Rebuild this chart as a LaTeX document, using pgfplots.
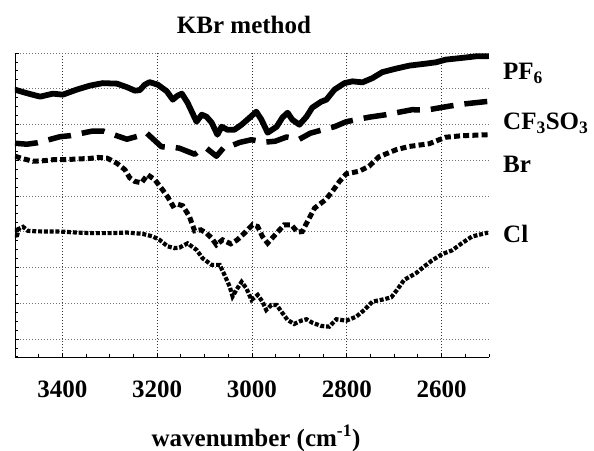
\documentclass[border=0pt]{standalone}
\usepackage{pgfplots}
\pgfplotsset{compat=1.18}
\usepackage{fontspec}
\setmainfont{Liberation Serif}
\begin{document}
\begin{tikzpicture}
\useasboundingbox (-15pt,-93pt) rectangle (579pt,357pt);
\begin{axis}[
  scale only axis, width=474pt, height=304pt,
  anchor=south west, at={(0pt,0pt)},
  x dir=reverse, xmin=2500, xmax=3500, ymin=0, ymax=303.6,
  axis x line*=bottom, axis y line*=left,
  axis line style={line width=0.9pt},
  xtick={3400,3200,3000,2800,2600},
  xticklabels={3400,3200,3000,2800,2600},
  minor xtick={2500,2550,...,3500},
  ytick={18,53.7,89.4,125.1,160.8,196.5,232.2,267.9,303.6},
  yticklabels={},
  minor ytick={0.15,9.075,...,303.6},
  tick align=inside, major tick length=4pt, minor tick length=3pt,
  tick style={black, line width=0.8pt},
  xmajorgrids, ymajorgrids,
  x grid style={black!80, line width=0.7pt, dash pattern=on 1.3pt off 1.7pt},
  y grid style={black!55, line width=0.7pt, dash pattern=on 1.3pt off 1.7pt},
  every axis title/.style={at={(axis description cs:0.5,1)}, anchor=base, yshift=20pt, xshift=-8pt, font=\fontsize{25}{30}\selectfont\bfseries},
  title={KBr method},
  every axis x label/.style={at={(axis description cs:0.5,0)}, anchor=base, yshift=-89pt, xshift=4pt, font=\fontsize{25}{30}\selectfont\bfseries},
  xlabel={wavenumber (cm\textsuperscript{-1})},
  xticklabel style={anchor=base, yshift=-40pt, font=\fontsize{25}{30}\selectfont\bfseries},
]
% PF6
\addplot[black, line width=5.8pt, line join=round, line cap=round] coordinates {
(3500,267) (3479,264) (3447,260) (3420,263) (3399,262) (3370,267) (3342,271)
(3315,273.5) (3285,273) (3264,269.5) (3247,266) (3237,266.5) (3226,272)
(3216,274.5) (3199,272) (3180,265.5) (3167,257) (3157,261) (3148,263)
(3136,254) (3117,235) (3106,242) (3096,240) (3085,234) (3073,222) (3064,230)
(3052,227) (3037,227) (3022,232) (3005,239) (2991,245) (2980,237) (2967,224)
(2948,230) (2936,239) (2925,244) (2915,237) (2900,232) (2885,240) (2873,249)
(2854,255) (2843,257) (2826,267) (2805,273.5) (2788,275.3) (2767,274.3)
(2746,278.5) (2725,284.5) (2696,288) (2668,291) (2633,293) (2612,294.3)
(2591,297) (2557,298.7) (2527,300.3) (2502,300.3)
};
% CF3SO3
\addplot[black, line width=5.5pt, dash pattern=on 23pt off 11pt, line join=round] coordinates {
(3500,213.5) (3475,212.5) (3452,214) (3405,220) (3384,221) (3338,225.5)
(3313,225.5) (3264,217.5) (3237,221) (3228,223.5) (3222,223.5) (3191,210)
(3167,209.5) (3153,208.5) (3121,202.5) (3111,206) (3096,208.5) (3075,200.5)
(3058,210) (3047,210.3) (3026,214.3) (3001,217) (2974,214.5) (2951,215.5)
(2927,219.7) (2900,217.5) (2877,223.5) (2858,226) (2826,230) (2801,235)
(2753,239.5) (2717,242) (2662,247) (2633,246.5) (2584,250.5) (2557,252.5)
(2502,255.3)
};
% Br
\addplot[black, line width=5pt, dash pattern=on 6pt off 3.2pt] coordinates {
(3500,200.5) (3483,198) (3462,195.5) (3441,196) (3420,197) (3399,197)
(3370,197.7) (3342,198.3) (3325,199.3) (3306,198.7) (3285,193.5) (3268,187)
(3258,179) (3247,175.3) (3233,174) (3226,178.5) (3220,182) (3205,177)
(3191,168.5) (3178,160) (3167,151) (3159,153) (3146,151) (3132,140.3)
(3121,126) (3108,127) (3096,123.7) (3085,118.7) (3075,112) (3062,117)
(3045,113) (3031,117) (3016,123.7) (2999,132) (2988,130.3) (2978,120.3)
(2967,113.7) (2948,123.7) (2932,132) (2917,132) (2904,124.7) (2894,125.3)
(2883,135.3) (2868,148.7) (2845,157) (2831,165) (2816,175) (2801,183)
(2774,185.5) (2753,190.5) (2732,200) (2696,207) (2668,210.3) (2626,213)
(2605,217) (2591,219.5) (2557,221) (2502,222)
};
% Cl
\addplot[black, line width=4.2pt, dash pattern=on 4pt off 1.8pt] coordinates {
(3500,129) (3497,119) (3492,128) (3483,130) (3473,126) (3454,125.5)
(3426,125.3) (3405,125.3) (3370,124.3) (3336,123.7) (3300,123.7) (3264,124.3)
(3231,123) (3210,120.5) (3195,117) (3178,110.5) (3163,108.7) (3153,109.3)
(3136,113.5) (3117,107) (3104,98.5) (3085,92) (3068,92) (3058,82) (3047,70.3)
(3041,60.5) (3033,67) (3022,75) (3012,68.7) (3001,57) (2988,62) (2978,55.3)
(2970,47) (2959,52) (2948,52) (2938,45.3) (2925,37) (2911,33) (2896,36.3)
(2885,37.7) (2873,34.3) (2854,31) (2837,30.3) (2822,37.7) (2801,36.3)
(2780,40.3) (2763,47) (2746,55.3) (2721,57.7) (2706,59.7) (2694,67)
(2679,77) (2654,83.7) (2637,90.3) (2620,96.5) (2599,102.7) (2578,106.5)
(2557,113.7) (2536,120.3) (2502,124.3)
};
\end{axis}
\begin{scope}[every node/.style={anchor=base west, inner sep=0pt, font=\fontsize{25}{30}\selectfont\bfseries}]
\node at (488pt,277pt) {PF\textsubscript{6}};
\node at (488pt,227pt) {CF\textsubscript{3}SO\textsubscript{3}};
\node at (488pt,184pt) {Br};
\node at (488pt,114pt) {Cl};
\end{scope}
\end{tikzpicture}
\end{document}
